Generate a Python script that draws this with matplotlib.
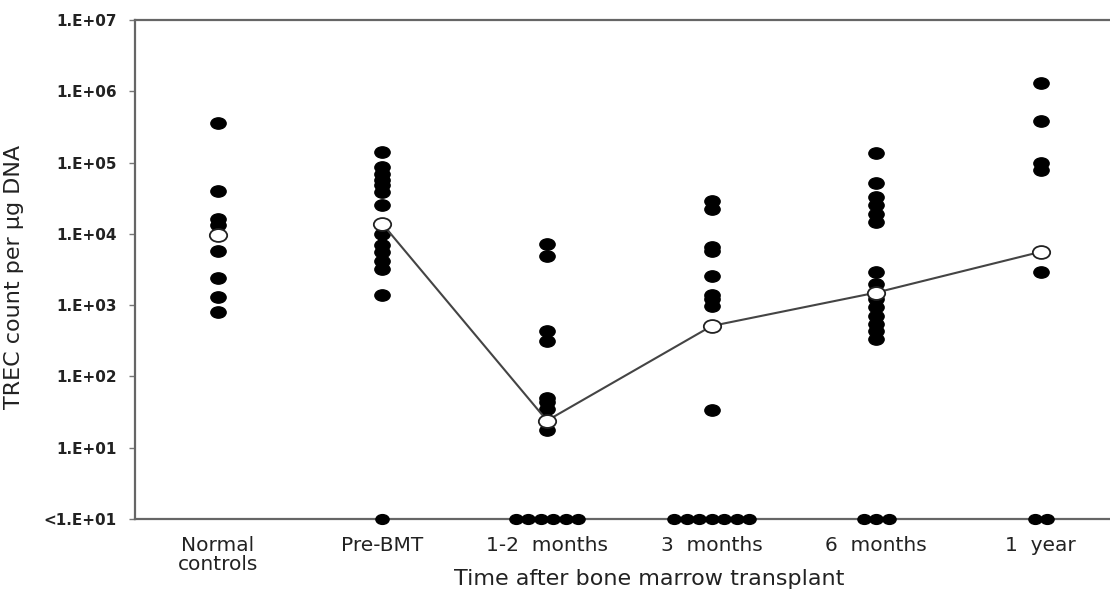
import numpy as np
import matplotlib
matplotlib.use('Agg')
import matplotlib.pyplot as plt
from matplotlib.path import Path
from matplotlib.transforms import Affine2D

plt.rcParams['font.family'] = ['DejaVu Sans']

groups = ['Normal\ncontrols', 'Pre-BMT', '1-2  months', '3  months', '6  months', '1  year']

# TREC counts per ug DNA above detection limit, one list per time point
normal = [3.6e5, 4.0e4, 1.6e4, 1.35e4, 5.8e3, 2.4e3, 1.3e3, 8.1e2]
pre_bmt = [1.41e5, 8.7e4, 7.0e4, 5.7e4, 4.8e4, 3.9e4, 2.5e4, 1.0e4,
           6.9e3, 5.5e3, 4.2e3, 3.2e3, 1.38e3]
months_1_2 = [7.2e3, 4.9e3, 4.35e2, 3.15e2, 5.0e1, 4.4e1, 3.5e1, 1.75e1]
months_3 = [2.9e4, 2.2e4, 6.5e3, 5.8e3, 2.6e3, 1.4e3, 1.2e3, 9.8e2, 3.4e1]
months_6 = [1.34e5, 5.2e4, 3.3e4, 2.5e4, 1.9e4, 1.45e4, 2.9e3, 2.0e3,
            1.2e3, 9.3e2, 7.1e2, 5.4e2, 4.4e2, 3.3e2]
year_1 = [1.3e6, 3.85e5, 1.0e5, 7.8e4, 2.9e3]

# samples below detection (<10), and group medians
below_limit = [0, 1, 6, 7, 3, 2]
medians = [9.5e3, 1.38e4, 24, 510, 1.5e3, 5.6e3]

detected = [normal, pre_bmt, months_1_2, months_3, months_6, year_1]

# slightly flattened dot
ellipse = Path.unit_circle().transformed(Affine2D().scale(1.35, 1.0))

fig = plt.figure(figsize=(11.1, 5.93), dpi=100)
ax = fig.add_axes([0.1216, 0.1248, 0.8784, 0.8415])

ax.set_yscale('log')
ax.set_ylim(1, 1e7)
ax.set_xlim(-0.503, 5.42)

for i, vals in enumerate(detected):
    ax.plot([i] * len(vals), vals, linestyle='none', marker=ellipse,
            markersize=11, color='black', zorder=3)
    n = below_limit[i]
    if n:
        xs = i + (np.arange(n) - (n - 1) / 2) * 0.076
        ax.plot(xs, [1] * n, linestyle='none', marker=ellipse,
                markersize=9.5, color='black', zorder=4, clip_on=False)

# median trend after transplant
ax.plot(range(1, 6), medians[1:], color='#444444', lw=1.5, zorder=4)
ax.plot(range(6), medians, linestyle='none', marker=ellipse, markersize=12.5,
        markerfacecolor='white', markeredgecolor='#222222',
        markeredgewidth=1.3, zorder=5)

yticks = [10.0 ** k for k in range(8)]
ylabels = ['<1.E+01'] + ['1.E+%02d' % k for k in range(1, 8)]
ax.set_yticks(yticks)
ax.set_yticklabels(ylabels)
ax.yaxis.set_minor_locator(matplotlib.ticker.NullLocator())
ax.tick_params(axis='y', length=4, width=1, color='#777777', pad=9,
               labelsize=11, labelcolor='#222222')
for lab in ax.get_yticklabels():
    lab.set_fontweight('bold')

ax.set_xticks(range(6))
ax.set_xticklabels(groups, linespacing=1.05)
ax.tick_params(axis='x', length=0, pad=12, labelsize=14.5, labelcolor='#222222')

for side in ['left', 'top', 'bottom']:
    ax.spines[side].set_color('#666666')
    ax.spines[side].set_linewidth(1.6)
ax.spines['right'].set_visible(False)

ax.set_ylabel('TREC count per µg DNA', fontsize=16, color='#222222')
ax.yaxis.set_label_coords(-0.1138, 0.485)
ax.set_xlabel('Time after bone marrow transplant', fontsize=16, color='#222222')
ax.xaxis.set_label_coords(0.527, -0.1)

fig.savefig('out.png', dpi=100)
